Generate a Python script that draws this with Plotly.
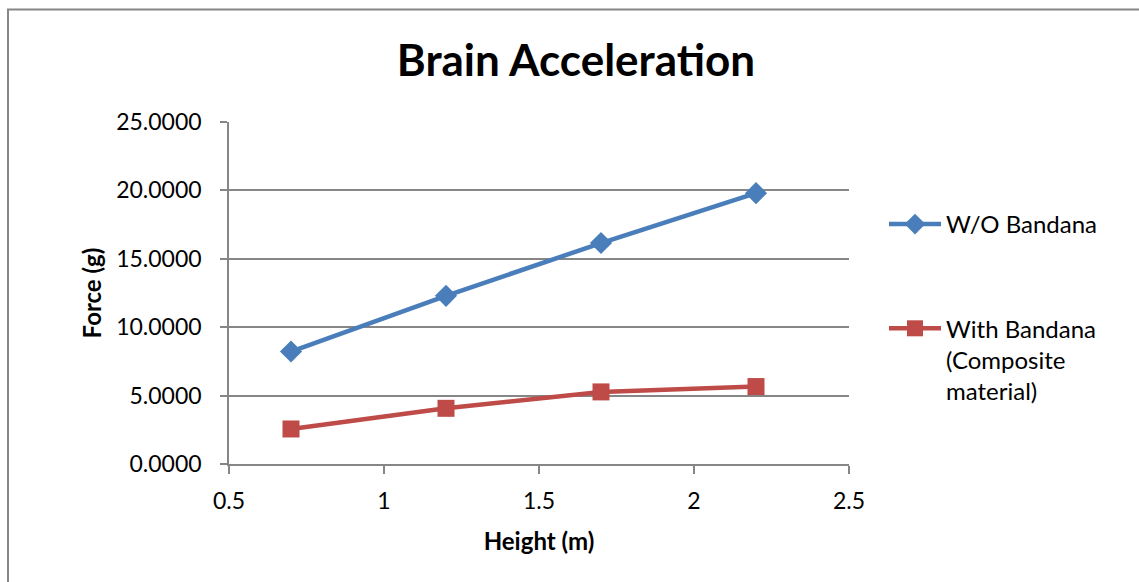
import plotly.graph_objects as go

heights = [0.7, 1.2, 1.7, 2.2]
wo_bandana = [8.22, 12.29, 16.15, 19.80]
with_bandana = [2.56, 4.07, 5.27, 5.66]
x_ticks = [0.5, 1, 1.5, 2, 2.5]
x_tick_labels = ["0.5", "1", "1.5", "2", "2.5"]
y_ticks = [0, 5, 10, 15, 20, 25]

FONT = "Lato, 'Open Sans', sans-serif"
GRAY = "#868686"
W, H = 1139, 582
L, R, T, B = 229, 849, 122, 464

def px_x(p):
    return (p - L) / (R - L)

def px_y(p):
    return (B - p) / (B - T)

fig = go.Figure()
fig.add_trace(go.Scatter(
    x=heights, y=wo_bandana, mode="lines+markers", name="W/O Bandana",
    line=dict(color="#4A7EBB", width=4.5),
    marker=dict(symbol="diamond", size=17, color="#4A7EBB"),
    legendgroup="a",
))
fig.add_trace(go.Scatter(
    x=heights, y=with_bandana, mode="lines+markers",
    name="With Bandana<br>(Composite<br>material)",
    line=dict(color="#BE4B48", width=4.5),
    marker=dict(symbol="square", size=17, color="#BE4B48"),
    legendgroup="b",
))

fig.update_layout(
    width=W, height=H,
    margin=dict(l=L, r=W - R, t=T, b=H - B, autoexpand=False),
    paper_bgcolor="white", plot_bgcolor="white",
    font=dict(family=FONT, color="#000000", size=23),
    title=dict(text="<b>Brain Acceleration</b>", x=576 / W, xref="container", xanchor="center",
               y=1 - 61 / H, yref="container", yanchor="middle",
               font=dict(size=44, family=FONT, color="#000000")),
    showlegend=True,
    legend=dict(x=px_x(884), y=px_y(202), xanchor="left", yanchor="top",
                traceorder="grouped", tracegroupgap=70, itemwidth=52, valign="top",
                font=dict(size=24, family=FONT, color="#000000"),
                bgcolor="rgba(0,0,0,0)"),
    xaxis=dict(range=[0.5, 2.5], tickvals=x_ticks, ticktext=x_tick_labels,
               showgrid=False, zeroline=False, showline=True, linecolor=GRAY, linewidth=1.5,
               ticks="outside", ticklen=8, tickcolor=GRAY, tickwidth=1.5,
               ticklabelstandoff=8,
               tickfont=dict(size=23, family=FONT, color="#000000"),
               title=dict(text="<b>Height (m)</b>", standoff=20,
                          font=dict(size=24, family=FONT, color="#000000"))),
    yaxis=dict(range=[0, 25], tickvals=y_ticks, tickformat=".4f",
               showgrid=True, gridcolor=GRAY, gridwidth=1.5, zeroline=False,
               showline=True, linecolor=GRAY, linewidth=1.5,
               ticks="outside", ticklen=7, tickcolor=GRAY, tickwidth=1.5,
               ticklabelstandoff=14,
               tickfont=dict(size=23, family=FONT, color="#000000"),
               title=dict(text="<b>Force (g)</b>", standoff=8,
                          font=dict(size=24, family=FONT, color="#000000"))),
)

fig.add_shape(type="rect", xref="paper", yref="paper",
              x0=px_x(8), x1=px_x(1150), y0=px_y(595), y1=px_y(9.5),
              line=dict(color=GRAY, width=2), fillcolor="rgba(0,0,0,0)", layer="below")

fig.write_html("out.html")
